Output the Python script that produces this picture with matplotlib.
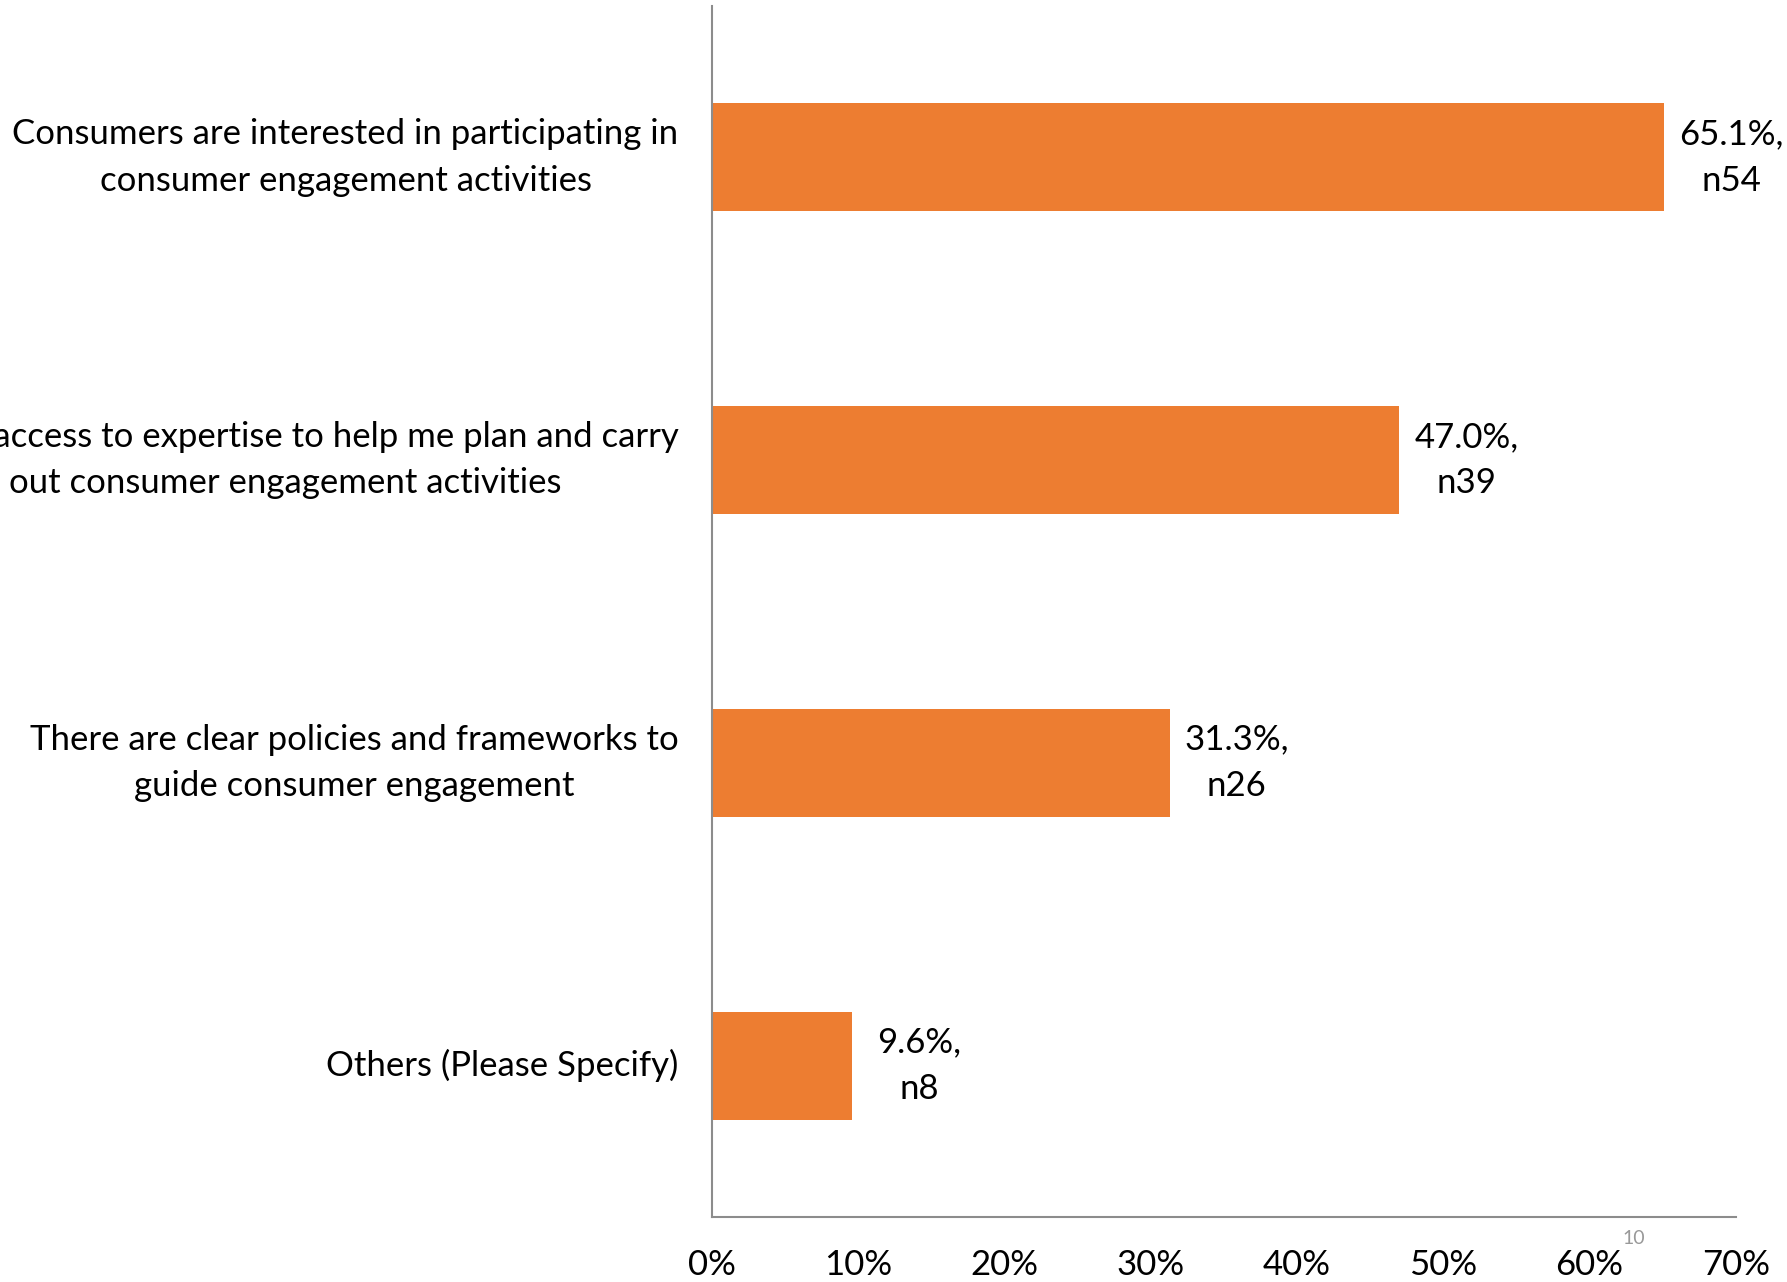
import matplotlib.pyplot as plt
from matplotlib.ticker import FuncFormatter

plt.rcParams['font.family'] = ['Lato', 'DejaVu Sans']

# survey answers, top to bottom
categories = [
    "Consumers are interested in participating in\nconsumer engagement activities",
    "I have access to expertise to help me plan and carry\nout consumer engagement activities",
    "There are clear policies and frameworks to\nguide consumer engagement",
    "Others (Please Specify)",
]
percent = [65.1, 47.0, 31.3, 9.6]
counts = [54, 39, 26, 8]
xticks = [0, 10, 20, 30, 40, 50, 60, 70]

orange = "#ED7D31"
axis_grey = "#8C8C8C"

fig = plt.figure(figsize=(17.87, 12.82), dpi=100)
ax = fig.add_axes([0.3984, 0.0507, 0.9714 - 0.3984, 0.9953 - 0.0507])

ypos = list(range(len(categories)))
ax.barh(ypos, percent, height=0.357, color=orange)
ax.set_ylim(len(categories) - 0.5, -0.5)
ax.set_xlim(0, 70)

for y, p, n in zip(ypos, percent, counts):
    ax.annotate(f"{p:.1f}%,\nn{n}", xy=(p, y), xytext=(67, 0),
                textcoords="offset pixels", ha="center", va="center",
                fontsize=25, linespacing=1.55, color="black")

ax.set_yticks(ypos)
ax.set_yticklabels(categories, fontsize=25, linespacing=1.55,
                   multialignment="center", va="center")
ax.set_xticks(xticks)
ax.xaxis.set_major_formatter(FuncFormatter(lambda v, _: f"{v:.0f}%"))
ax.tick_params(axis="x", length=0, pad=23, labelsize=25)
ax.tick_params(axis="y", length=0, pad=24)

for side in ("top", "right"):
    ax.spines[side].set_visible(False)
for side in ("left", "bottom"):
    ax.spines[side].set_color(axis_grey)
    ax.spines[side].set_linewidth(1.5)

# slide page number
fig.text(1634 / 1787, 1 - 1239 / 1282, "10", fontsize=14, color="#999999",
         ha="center", va="center")

fig.savefig("out.png", dpi=100)
